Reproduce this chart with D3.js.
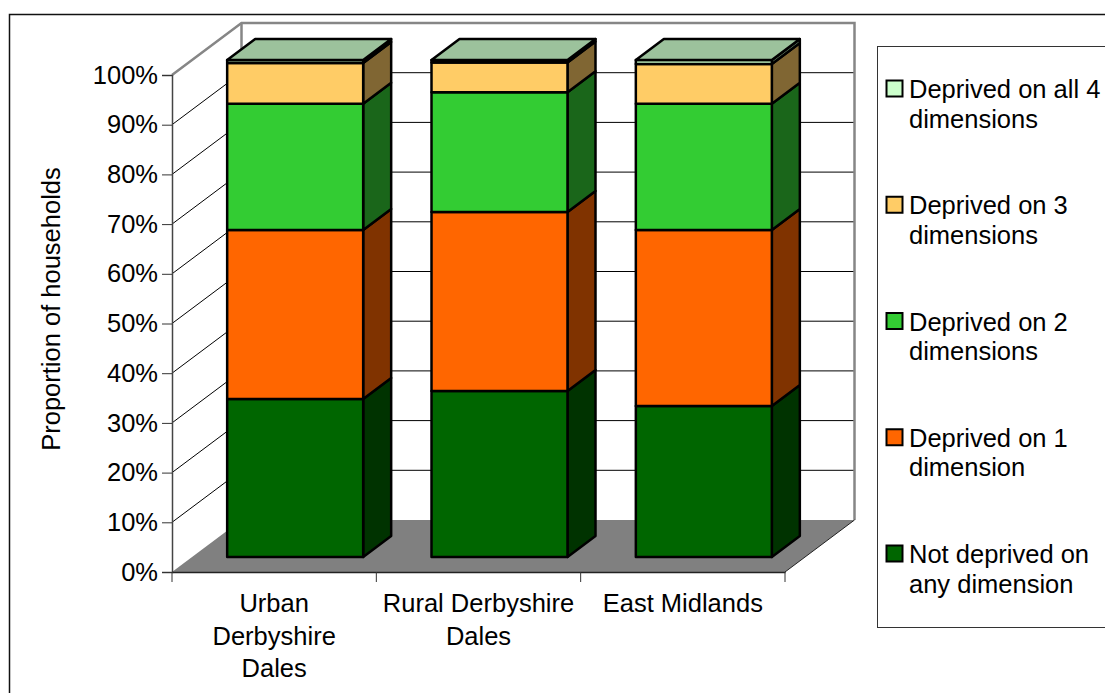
<!DOCTYPE html>
<html>
<head>
<meta charset="utf-8">
<script src="https://d3js.org/d3.v7.min.js"></script>
<style>
  html, body { margin: 0; background: #fff; overflow: hidden; }
  text { font-family: "Liberation Sans", Arial, sans-serif; fill: #000; }
</style>
</head>
<body>
<div id="chart"></div>
<script>
const categories = ['Urban Derbyshire Dales', 'Rural Derbyshire Dales', 'East Midlands'];
const categoryLines = [['Urban', 'Derbyshire', 'Dales'], ['Rural Derbyshire', 'Dales'], ['East Midlands']];
const seriesNames = ['none', 'one', 'two', 'three', 'four'];
const none = [31.8, 33.4, 30.4];
const one = [34.0, 36.0, 35.4];
const two = [25.4, 24.1, 25.4];
const three = [8.2, 6.0, 8.0];
const four = [0.6, 0.5, 0.8];
const legendLines = [
  ['Deprived on all 4', 'dimensions'],
  ['Deprived on 3', 'dimensions'],
  ['Deprived on 2', 'dimensions'],
  ['Deprived on 1', 'dimension'],
  ['Not deprived on', 'any dimension']
];
const yTicks = [0, 10, 20, 30, 40, 50, 60, 70, 80, 90, 100];

const frontColors = ['#006600', '#FF6600', '#33CC33', '#FFCC66', '#CCFFCC'];
const sideColors = ['#003300', '#803300', '#1A661A', '#806633', '#668066'];
const topColor = '#9CC29C';

const width = 1105;
const height = 693;
const fontSize = '25.5px';
const plot = { left: 172, right: 785, top: 75, bottom: 572 };
// 3d offset of the back wall and of a bar's own depth
const wall = { dx: 69.5, dy: -52 };
const barOffset = { dx: 21, dy: -15 };
const barDepth = { dx: 28, dy: -21 };

const svg = d3.select('#chart').append('svg')
  .attr('width', width)
  .attr('height', height)
  .style('display', 'block');

const x = d3.scaleBand().domain(categories).range([plot.left, plot.right]).paddingInner(0).paddingOuter(0);
const y = d3.scaleLinear().domain([0, 100]).range([plot.bottom, plot.top]);
const barWidth = 136;

// outer frame, runs off the page on the right and bottom
svg.append('rect')
  .attr('x', 9.5).attr('y', 14.5)
  .attr('width', width + 20).attr('height', height + 20)
  .attr('fill', '#fff').attr('stroke', '#111').attr('stroke-width', 1.5);

const poly = (pts) => pts.map((p) => p.join(',')).join(' ');

// floor
svg.append('polygon')
  .attr('points', poly([
    [plot.left, plot.bottom],
    [plot.right, plot.bottom],
    [plot.right + wall.dx, plot.bottom + wall.dy],
    [plot.left + wall.dx, plot.bottom + wall.dy]
  ]))
  .attr('fill', '#808080');

// gridlines on side wall and back wall
const grid = svg.append('g').attr('stroke', '#000').attr('stroke-width', 1).attr('fill', 'none');
yTicks.filter((d) => d > 0).forEach((d) => {
  grid.append('polyline')
    .attr('points', poly([
      [plot.left, y(d)],
      [plot.left + wall.dx, y(d) + wall.dy],
      [plot.right + wall.dx, y(d) + wall.dy]
    ]));
});

// grey wall edges
svg.append('polyline')
  .attr('points', poly([
    [plot.left, plot.top],
    [plot.left + wall.dx, plot.top + wall.dy],
    [plot.right + wall.dx, plot.top + wall.dy],
    [plot.right + wall.dx, plot.bottom + wall.dy]
  ]))
  .attr('fill', 'none').attr('stroke', '#868686').attr('stroke-width', 2.5);
svg.append('line')
  .attr('x1', plot.left + wall.dx).attr('x2', plot.left + wall.dx)
  .attr('y1', plot.top + wall.dy).attr('y2', plot.bottom + wall.dy)
  .attr('stroke', '#868686').attr('stroke-width', 2.5);
svg.append('line')
  .attr('x1', plot.right).attr('x2', plot.right + wall.dx)
  .attr('y1', plot.bottom).attr('y2', plot.bottom + wall.dy)
  .attr('stroke', '#222').attr('stroke-width', 1);

// bars
const table = categories.map((c, i) => ({
  category: c, none: none[i], one: one[i], two: two[i], three: three[i], four: four[i]
}));
const stacked = d3.stack().keys(seriesNames)(table);

const bars = svg.append('g')
  .attr('stroke', '#000').attr('stroke-width', 2.5).attr('stroke-linejoin', 'round');

stacked.forEach((layer, s) => {
  layer.forEach((d) => {
    const x0 = x(d.data.category) + x.bandwidth() / 2 + barOffset.dx - barWidth / 2;
    const x1 = x0 + barWidth;
    const y0 = y(d[0]) + barOffset.dy;
    const y1 = y(d[1]) + barOffset.dy;
    bars.append('polygon')
      .attr('points', poly([
        [x1, y0], [x1 + barDepth.dx, y0 + barDepth.dy],
        [x1 + barDepth.dx, y1 + barDepth.dy], [x1, y1]
      ]))
      .attr('fill', sideColors[s]);
    bars.append('rect')
      .attr('x', x0).attr('y', y1)
      .attr('width', barWidth).attr('height', y0 - y1)
      .attr('fill', frontColors[s]);
    if (s === stacked.length - 1) {
      bars.append('polygon')
        .attr('points', poly([
          [x0, y1], [x1, y1],
          [x1 + barDepth.dx, y1 + barDepth.dy], [x0 + barDepth.dx, y1 + barDepth.dy]
        ]))
        .attr('fill', topColor);
    }
  });
});

// y axis
const yAxis = svg.append('g')
  .attr('transform', `translate(${plot.left},0)`)
  .call(d3.axisLeft(y).tickValues(yTicks).tickFormat((d) => d + '%').tickSize(10).tickPadding(4));
yAxis.selectAll('.domain').attr('stroke', '#444').attr('stroke-width', 1.5);
yAxis.selectAll('.tick line').attr('stroke', '#333');
yAxis.selectAll('text').style('font-size', fontSize).style('font-family', '"Liberation Sans", Arial, sans-serif');

// x axis
const xAxis = svg.append('g')
  .attr('transform', `translate(0,${plot.bottom})`)
  .call(d3.axisBottom(x).tickValues([]).tickSizeOuter(0));
xAxis.selectAll('.domain').attr('stroke', '#222').attr('stroke-width', 1.5);
const tickXs = categories.map((c) => x(c)).concat([plot.right]);
xAxis.selectAll('line.cat').data(tickXs).join('line')
  .attr('class', 'cat')
  .attr('x1', (d) => d).attr('x2', (d) => d)
  .attr('y1', 0).attr('y2', 10)
  .attr('stroke', '#333');

categories.forEach((c, i) => {
  svg.append('text')
    .attr('text-anchor', 'middle')
    .style('font-size', fontSize)
    .selectAll('tspan').data(categoryLines[i]).join('tspan')
    .attr('x', x(c) + x.bandwidth() / 2)
    .attr('y', (d, j) => 612 + j * 32.5)
    .text((d) => d);
});

// y title
svg.append('text')
  .attr('transform', 'translate(60,309) rotate(-90)')
  .attr('text-anchor', 'middle')
  .style('font-size', fontSize)
  .text('Proportion of households');

// legend
const legend = { x: 877, y: 46, bottom: 627, first: 89, step: 116.25, lineGap: 29.5 };
svg.append('rect')
  .attr('x', legend.x + 0.5).attr('y', legend.y + 0.5)
  .attr('width', width).attr('height', legend.bottom - legend.y)
  .attr('fill', '#fff').attr('stroke', '#333').attr('stroke-width', 1);

legendLines.forEach((lines, i) => {
  const cy = legend.first + i * legend.step;
  svg.append('rect')
    .attr('x', 886.5).attr('y', cy - 8.5)
    .attr('width', 16).attr('height', 16)
    .attr('fill', frontColors[frontColors.length - 1 - i])
    .attr('stroke', '#000').attr('stroke-width', 2);
  svg.append('text')
    .style('font-size', fontSize)
    .selectAll('tspan').data(lines).join('tspan')
    .attr('x', 909)
    .attr('y', (d, j) => cy + 9 + j * legend.lineGap)
    .text((d) => d);
});
</script>
</body>
</html>
